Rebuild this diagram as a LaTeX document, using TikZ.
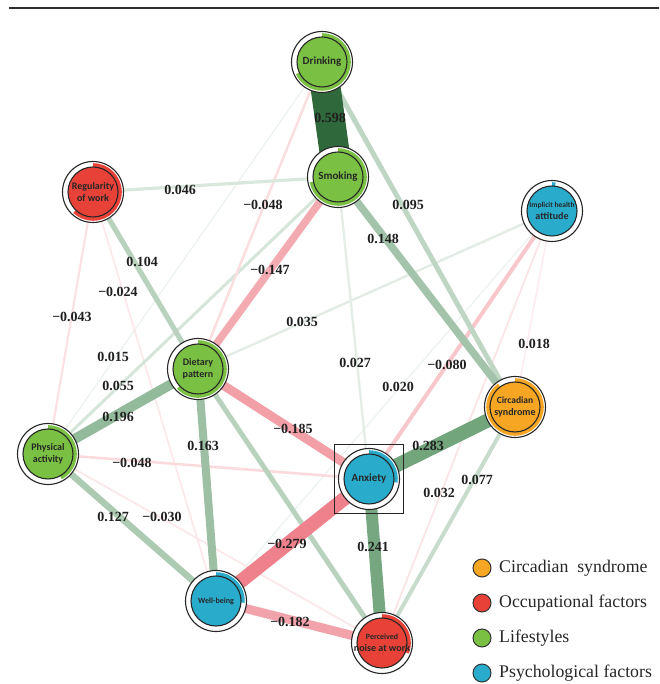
\documentclass[tikz,border=0pt]{standalone}
\usepackage{fontspec}
\setmainfont{Liberation Serif}
\newfontfamily\calfont{Carlito}
\usetikzlibrary{backgrounds}
\definecolor{gnode}{RGB}{122,193,67}
\definecolor{rnode}{RGB}{232,66,56}
\definecolor{bnode}{RGB}{41,172,204}
\definecolor{onode}{RGB}{246,166,35}
\definecolor{posg}{RGB}{60,130,75}
\definecolor{posdark}{RGB}{47,104,58}
\definecolor{negr}{RGB}{230,70,85}
\definecolor{rulec}{RGB}{45,45,45}
\newcommand\mkpie[4]{%
  \fill[#2] ([shift={(90:28.8)}]#1.center) arc[start angle=90, delta angle={-360*#3}, radius=28.8]
    -- ([shift={({90-360*#3}:25)}]#1.center) arc[start angle={90-360*#3}, delta angle={360*#3}, radius=25] -- cycle;
  \draw[line width=1.1pt, draw=black!85, fill=#2] (#1.center) circle[radius=25];
  \node[ntext] at (#1.center) {#4};
}
\newcommand\edg[4]{\draw[line width=#3pt, draw=#4] (#1.center) -- (#2.center);}
\begin{document}
\begin{tikzpicture}[x=1pt,y=1pt,
  outer/.style={circle, draw=black!85, line width=1.1pt, fill=white, minimum size=61pt, inner sep=0pt},
  ntext/.style={font=\calfont\bfseries, text=black!85, align=center, inner sep=0pt},
  elab/.style={font=\bfseries\fontsize{14}{14}\selectfont, text=black!88, inner sep=0pt},
  legc/.style={circle, draw=black!80, line width=1pt, minimum size=18pt, inner sep=0pt},
  legt/.style={anchor=west, font=\fontsize{17.8}{18}\selectfont, text=black!85, inner sep=0pt}]
\useasboundingbox (0,0) rectangle (659,684);
\draw[rulec, line width=2pt] (9,676) -- (659,676);

% nodes
\node[outer] (dri) at (322,622) {};
\node[outer] (smo) at (338,507) {};
\node[outer] (reg) at (93,492) {};
\node[outer] (imp) at (552,473) {};
\node[outer] (die) at (198,315) {};
\node[outer] (phy) at (48,230) {};
\node[outer] (cir) at (515,277) {};
\node[outer] (anx) at (369,205) {};
\node[outer] (wel) at (216,83) {};
\node[outer] (per) at (382,41) {};

\mkpie{dri}{gnode}{0.68}{\fontsize{11}{12}\selectfont Drinking}
\mkpie{smo}{gnode}{0.72}{\fontsize{11}{12}\selectfont Smoking}
\mkpie{reg}{rnode}{0.62}{\fontsize{10}{12.5}\selectfont Regularity\\of work}
\mkpie{imp}{bnode}{0.02}{\fontsize{7.5}{10}\selectfont Implicit health\\attitude}
\mkpie{die}{gnode}{0.63}{\fontsize{10}{12.5}\selectfont Dietary\\pattern}
\mkpie{phy}{gnode}{0.42}{\fontsize{10}{12.5}\selectfont Physical\\activity}
\mkpie{cir}{onode}{0.90}{\fontsize{9.5}{12}\selectfont Circadian\\syndrome}
\mkpie{anx}{bnode}{0.27}{\fontsize{11}{12}\selectfont Anxiety}
\mkpie{wel}{bnode}{0.26}{\fontsize{8}{10}\selectfont Well-being}
\mkpie{per}{rnode}{0.31}{\fontsize{8}{10.5}\selectfont Perceived\\noise at work}

\node[draw=black!85, line width=1.3pt, minimum size=69pt, inner sep=0pt] (anxbox) at (anx) {};

% edges
\begin{pgfonlayer}{background}
\edg{imp}{cir}{1.5}{negr!10!white}
\edg{imp}{wel}{1.5}{posg!9!white}
\edg{imp}{per}{1.8}{negr!14!white}
\edg{dri}{phy}{1.5}{posg!9!white}
\edg{reg}{wel}{1.8}{negr!12!white}
\edg{phy}{per}{1.8}{negr!13!white}
\edg{reg}{phy}{2.2}{negr!16!white}
\edg{imp}{die}{2.3}{posg!15!white}
\edg{smo}{anx}{2.4}{posg!14!white}
\edg{smo}{phy}{3}{posg!21!white}
\edg{dri}{die}{2.5}{negr!18!white}
\edg{reg}{smo}{3.2}{posg!19!white}
\edg{phy}{anx}{2.6}{negr!20!white}
\edg{cir}{per}{4}{posg!28!white}
\edg{imp}{anx}{4}{negr!30!white}
\edg{dri}{cir}{5}{posg!33!white}
\edg{die}{per}{5}{posg!36!white}
\edg{reg}{die}{5.2}{posg!36!white}
\edg{phy}{wel}{6.5}{posg!42!white}
\edg{smo}{cir}{7.5}{posg!47!white}
\edg{smo}{die}{7.5}{negr!46!white}
\edg{die}{wel}{8}{posg!50!white}
\edg{die}{anx}{9}{negr!52!white}
\edg{wel}{per}{9}{negr!50!white}
\edg{die}{phy}{10}{posg!55!white}
\edg{anx}{per}{12}{posg!70!white}
\edg{anx}{wel}{14}{negr!68!white}
\edg{cir}{anx}{14}{posg!72!white}
\edg{dri}{smo}{30}{posdark}
\end{pgfonlayer}

% edge labels
\node[elab] (l1) at (330,566) {0.598};
\node[elab] (l2) at (180,494) {0.046};
\node[elab] (l3) at (263,479) {−0.048};
\node[elab] (l4) at (408,479) {0.095};
\node[elab] (l5) at (142,422) {0.104};
\node[elab] (l6) at (383,445) {0.148};
\node[elab] (l7) at (118,392) {−0.024};
\node[elab] (l8) at (270,414) {−0.147};
\node[elab] (l9) at (72,367) {−0.043};
\node[elab] (l10) at (302,362) {0.035};
\node[elab] (l11) at (113,327) {0.015};
\node[elab] (l12) at (355,321) {0.027};
\node[elab] (l13) at (398,297) {0.020};
\node[elab] (l14) at (447,319) {−0.080};
\node[elab] (l15) at (534,340) {0.018};
\node[elab] (l16) at (118,298) {0.055};
\node[elab] (l17) at (118,267) {0.196};
\node[elab] (l18) at (293,255) {−0.185};
\node[elab] (l19) at (203,238) {0.163};
\node[elab] (l20) at (132,221) {−0.048};
\node[elab] (l21) at (428,238) {0.283};
\node[elab] (l22) at (439,191) {0.032};
\node[elab] (l23) at (477,204) {0.077};
\node[elab] (l24) at (113,167) {0.127};
\node[elab] (l25) at (162,167) {−0.030};
\node[elab] (l26) at (287,140) {−0.279};
\node[elab] (l27) at (373,137) {0.241};
\node[elab] (l28) at (290,62) {−0.182};

% legend
\node[legc, fill=onode] (lc1) at (482,116) {};
\node[legc, fill=rnode] (lc2) at (482,81) {};
\node[legc, fill=gnode] (lc3) at (482,46) {};
\node[legc, fill=bnode] (lc4) at (482,11) {};
\node[legt] (lt1) at (499,116) {Circadian\ \ syndrome};
\node[legt] (lt2) at (499,81) {Occupational factors};
\node[legt] (lt3) at (499,46) {Lifestyles};
\node[legt] (lt4) at (499,11) {Psychological factors};
\end{tikzpicture}
\end{document}
